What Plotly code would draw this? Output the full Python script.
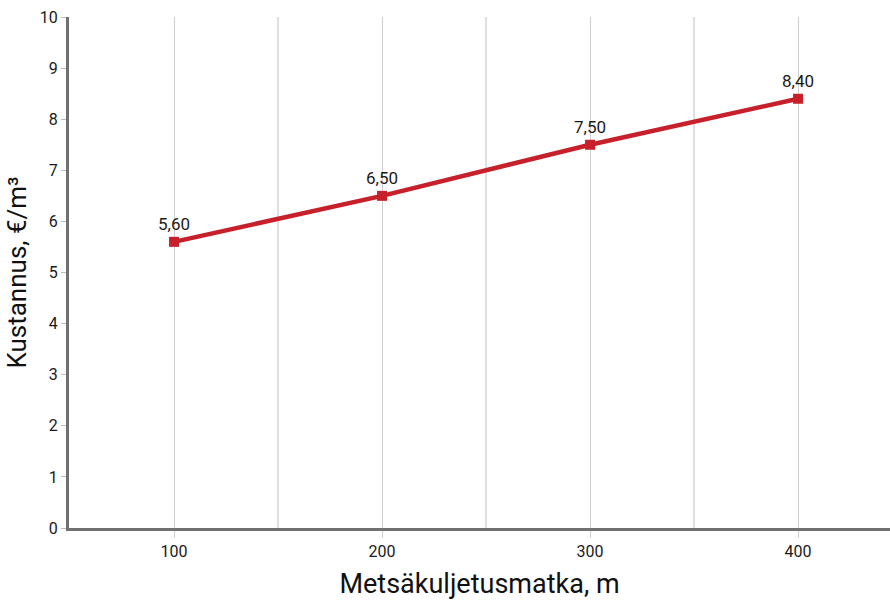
import plotly.graph_objects as go

# Forwarding distance (m) and cost (€/m³)
distance = [100, 200, 300, 400]
cost = [5.60, 6.50, 7.50, 8.40]
labels = [f"{v:.2f}".replace(".", ",") for v in cost]

x_ticks = [100, 200, 300, 400]
y_ticks = list(range(0, 11))

font_family = "Roboto, 'DejaVu Sans', sans-serif"
red = "#c8202a"

fig = go.Figure()
fig.add_trace(go.Scatter(
    x=distance, y=cost,
    mode="lines+markers+text",
    line=dict(color=red, width=4.5),
    marker=dict(symbol="square", size=10, color=red),
    text=labels,
    textposition="top center",
    textfont=dict(family=font_family, size=17, color="#1a1a1a"),
    cliponaxis=False,
    showlegend=False,
    hoverinfo="skip",
))

# Minor vertical grid lines at the half-way points
for xv in [150, 250, 350]:
    fig.add_shape(type="line", x0=xv, x1=xv, y0=0, y1=10,
                  xref="x", yref="y", layer="below",
                  line=dict(color="#cfcfcf", width=1.3))

fig.update_layout(
    width=890, height=600,
    margin=dict(l=69, r=0, t=17, b=72),
    paper_bgcolor="white", plot_bgcolor="white",
    font=dict(family=font_family, color="#222"),
)
fig.update_xaxes(
    range=[49.5, 444.2],
    tickvals=x_ticks,
    ticks="outside", ticklen=7, tickcolor="#cfcfcf", tickwidth=1.3,
    showgrid=True, gridcolor="#cfcfcf", gridwidth=1.3,
    showline=True, linecolor="#707070", linewidth=3,
    zeroline=False,
    tickfont=dict(size=16, color="#1a1a1a"),
    title=dict(text="Metsäkuljetusmatka, m", font=dict(size=27, color="#111"), standoff=14),
)
fig.update_yaxes(
    range=[0, 10],
    tickvals=y_ticks,
    ticks="outside", ticklen=5, tickcolor="#bdbdbd", tickwidth=1.3,
    showgrid=False,
    showline=True, linecolor="#707070", linewidth=3,
    zeroline=False,
    tickfont=dict(size=16, color="#1a1a1a"),
    title=dict(text="Kustannus, €/m³", font=dict(size=26, color="#111"), standoff=6),
)

fig.write_html("out.html")
